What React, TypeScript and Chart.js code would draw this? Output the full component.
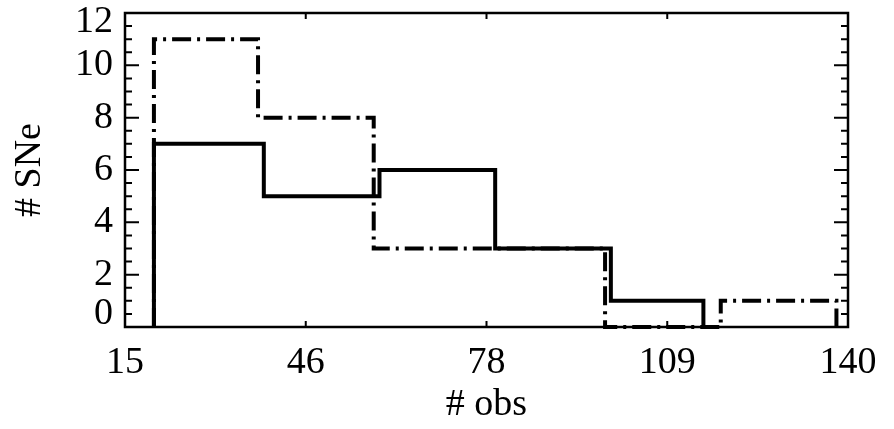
import React, { useEffect, useRef } from "react";
import { Chart, registerables } from "chart.js";

Chart.register(...registerables);

// Histogram bin edges and counts
const solidEdges = [20, 39, 59, 79, 99, 115];
const solidCounts = [7, 5, 6, 3, 1];
const dashEdges = [20, 38, 58, 78, 98, 118, 138];
const dashCounts = [11, 8, 3, 3, 0, 1];

// Axis ticks
const xTickValues = [15, 46.25, 77.5, 108.75, 140];
const xTickLabels = ["15", "46", "78", "109", "140"];
const yTickValues = [0, 2, 4, 6, 8, 10, 12];
const yTickLabels = ["0", "2", "4", "6", "8", "10", "12"];

const FONT = "'Liberation Serif', 'Times New Roman', serif";

function stepPoints(edges: number[], counts: number[]) {
  const pts: { x: number; y: number }[] = [{ x: edges[0], y: 0 }];
  counts.forEach((c, i) => pts.push({ x: edges[i], y: c }));
  pts.push({ x: edges[edges.length - 1], y: 0 });
  return pts;
}

const framePlugin = {
  id: "idlFrame",
  beforeDraw(chart: any) {
    const ys = chart.scales.y;
    const items = ys.getLabelItems();
    items.forEach((it: any) => {
      if (it._shifted) return;
      if (it.label === "0") it.options.translation[1] -= 13;
      else if (it.label === "12") it.options.translation[1] += 9;
      it._shifted = true;
    });
  },
  afterDraw(chart: any) {
    const { ctx, chartArea } = chart;
    const { left, right, top, bottom } = chartArea;
    const xs = chart.scales.x;
    const ys = chart.scales.y;
    ctx.save();
    ctx.strokeStyle = "#000";
    ctx.lineWidth = 2.5;
    ctx.strokeRect(left, top, right - left, bottom - top);
    ctx.lineWidth = 2;
    ctx.beginPath();
    for (let v = 0; v <= 12.001; v += 0.5) {
      const py = ys.getPixelForValue(v);
      const len = Math.abs(v % 2) < 0.001 ? 14 : 7;
      ctx.moveTo(left, py);
      ctx.lineTo(left + len, py);
      ctx.moveTo(right, py);
      ctx.lineTo(right - len, py);
    }
    xTickValues.forEach((v) => {
      const px = xs.getPixelForValue(v);
      ctx.moveTo(px, bottom);
      ctx.lineTo(px, bottom - 6);
      ctx.moveTo(px, top);
      ctx.lineTo(px, top + 6);
    });
    ctx.stroke();
    ctx.restore();
  },
};

export default function App() {
  const ref = useRef<HTMLCanvasElement | null>(null);

  useEffect(() => {
    if (!ref.current) return;
    const chart = new Chart(ref.current, {
      type: "line",
      data: {
        datasets: [
          {
            label: "solid",
            data: stepPoints(solidEdges, solidCounts),
            borderColor: "#000",
            borderWidth: 4,
            stepped: true,
            pointRadius: 0,
            fill: false,
            clip: false,
          } as any,
          {
            label: "dashdot",
            data: stepPoints(dashEdges, dashCounts),
            borderColor: "#000",
            borderWidth: 4,
            borderDash: [19, 6, 3, 6],
            stepped: true,
            pointRadius: 0,
            fill: false,
            clip: false,
          } as any,
        ],
      },
      options: {
        animation: false,
        responsive: false,
        layout: { padding: { top: 13, right: 46, left: 0, bottom: 0 } },
        plugins: { legend: { display: false }, tooltip: { enabled: false } },
        scales: {
          x: {
            type: "linear",
            min: 15,
            max: 140,
            grid: { display: false, drawTicks: false },
            border: { display: false },
            afterBuildTicks: (s: any) => {
              s.ticks = xTickValues.map((v) => ({ value: v }));
            },
            afterFit: (s: any) => {
              s.height = 102;
              s.paddingLeft = 0;
              s.paddingRight = 0;
            },
            ticks: {
              autoSkip: false,
              maxRotation: 0,
              padding: 13,
              color: "#000",
              font: { family: FONT, size: 38 },
              callback: (v: any) => {
                const i = xTickValues.findIndex((t) => Math.abs(t - Number(v)) < 1e-6);
                return i >= 0 ? xTickLabels[i] : "";
              },
            },
            title: {
              display: true,
              text: "# obs",
              color: "#000",
              font: { family: FONT, size: 38 },
              padding: { top: 0, bottom: 1 },
            },
          },
          y: {
            type: "linear",
            min: 0,
            max: 12,
            grid: { display: false, drawTicks: false },
            border: { display: false },
            afterBuildTicks: (s: any) => {
              s.ticks = yTickValues.map((v) => ({ value: v }));
            },
            afterFit: (s: any) => {
              s.width = 125;
              s.paddingTop = 0;
              s.paddingBottom = 0;
            },
            ticks: {
              autoSkip: false,
              padding: 12,
              color: "#000",
              font: { family: FONT, size: 38 },
              callback: (v: any) => {
                const i = yTickValues.indexOf(Number(v));
                return i >= 0 ? yTickLabels[i] : "";
              },
            },
            title: {
              display: true,
              text: "# SNe",
              color: "#000",
              font: { family: FONT, size: 38 },
              padding: { top: 7, bottom: 0 },
            },
          },
        },
      },
      plugins: [framePlugin],
    } as any);
    return () => chart.destroy();
  }, []);

  return (
    <div style={{ position: "absolute", left: 0, top: 0, width: 894, height: 429, background: "#fff" }}>
      <canvas ref={ref} width={894} height={429} style={{ display: "block" }} />
    </div>
  );
}
